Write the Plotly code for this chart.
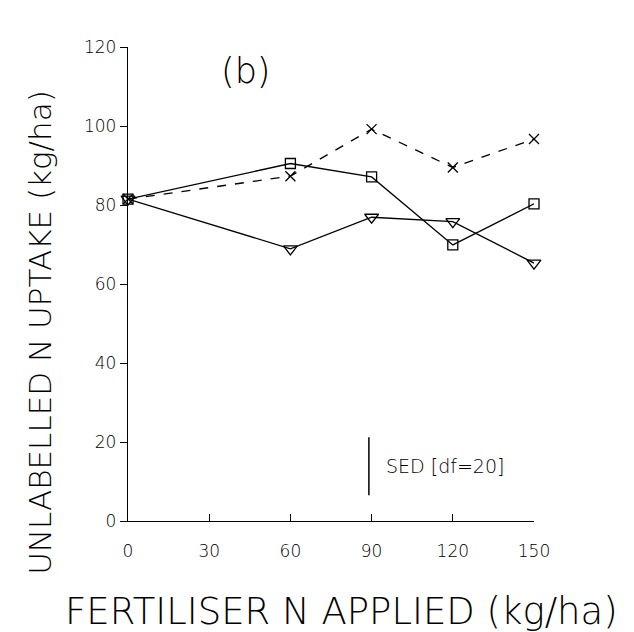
import plotly.graph_objects as go

# Fertiliser N rates (kg/ha)
n_applied = [0, 60, 90, 120, 150]

# Unlabelled N uptake (kg/ha) for the three treatments
uptake_square = [81.5, 90.5, 87.1, 69.9, 80.3]
uptake_triangle = [81.5, 68.9, 76.9, 75.8, 65.3]
uptake_cross = [81.5, 87.3, 99.2, 89.5, 96.7]

# Standard error of difference bar
sed_x = 89
sed_low = 6.5
sed_high = 21.2

x_ticks = [0, 30, 60, 90, 120, 150]
y_ticks = [0, 20, 40, 60, 80, 100, 120]

FONT = "DejaVu Sans"
line_style = dict(color="black", width=1.3)

fig = go.Figure()

fig.add_trace(go.Scatter(
    x=n_applied, y=uptake_cross, mode="lines+markers", cliponaxis=False,
    line=dict(color="black", width=1.3, dash="dash"),
    marker=dict(symbol="x-thin-open", size=10, color="black",
                line=dict(color="black", width=1.3)),
    showlegend=False))

fig.add_trace(go.Scatter(
    x=n_applied, y=uptake_square, mode="lines+markers", cliponaxis=False,
    line=line_style,
    marker=dict(symbol="square-open", size=10, color="black",
                line=dict(color="black", width=1.3)),
    showlegend=False))

fig.add_trace(go.Scatter(
    x=n_applied, y=uptake_triangle, mode="lines+markers", cliponaxis=False,
    line=line_style,
    marker=dict(symbol="triangle-down-open", size=12, color="black",
                line=dict(color="black", width=1.3)),
    showlegend=False))

# SED bar
fig.add_trace(go.Scatter(
    x=[sed_x, sed_x], y=[sed_low, sed_high], mode="lines",
    line=dict(color="black", width=1.5), showlegend=False))

fig.add_annotation(x=sed_x + 5.5, y=(sed_low + sed_high) / 2, text="SED [df=20]",
                   showarrow=False, xanchor="left", yanchor="middle",
                   font=dict(family=FONT, size=19, color="black", weight=200))

fig.add_annotation(x=43.5, y=114, text="(b)", showarrow=False,
                   xanchor="center", yanchor="middle",
                   font=dict(family=FONT, size=35, color="black", weight=200))

# Axis titles
fig.add_annotation(xref="paper", yref="paper", x=0.527, y=-0.19,
                   text="FERTILISER N APPLIED (kg/ha)", showarrow=False,
                   xanchor="center", yanchor="middle",
                   font=dict(family=FONT, size=37, color="black", weight=200))
fig.add_annotation(xref="paper", yref="paper", x=-0.2167, y=0.397,
                   text="UNLABELLED N UPTAKE (kg/ha)", showarrow=False,
                   textangle=-90, xanchor="center", yanchor="middle",
                   font=dict(family=FONT, size=31, color="black", weight=200))

fig.update_xaxes(
    range=[0, 150], tickvals=x_ticks, ticks="inside", ticklen=7,
    tickcolor="black", tickwidth=1.3, showline=True, linecolor="black",
    linewidth=1.3, showgrid=False, zeroline=False, ticklabelstandoff=14,
    tickfont=dict(family=FONT, size=17, color="black", weight=200))

fig.update_yaxes(
    range=[0, 120], tickvals=y_ticks, ticks="outside", ticklen=7,
    tickcolor="black", tickwidth=1.3, showline=True, linecolor="black",
    linewidth=1.3, showgrid=False, zeroline=False,
    tickfont=dict(family=FONT, size=17, color="black", weight=200))

fig.update_layout(
    width=634, height=632,
    margin=dict(l=128, r=100, t=47, b=111),
    plot_bgcolor="white", paper_bgcolor="white")

fig.write_html("out.html")
